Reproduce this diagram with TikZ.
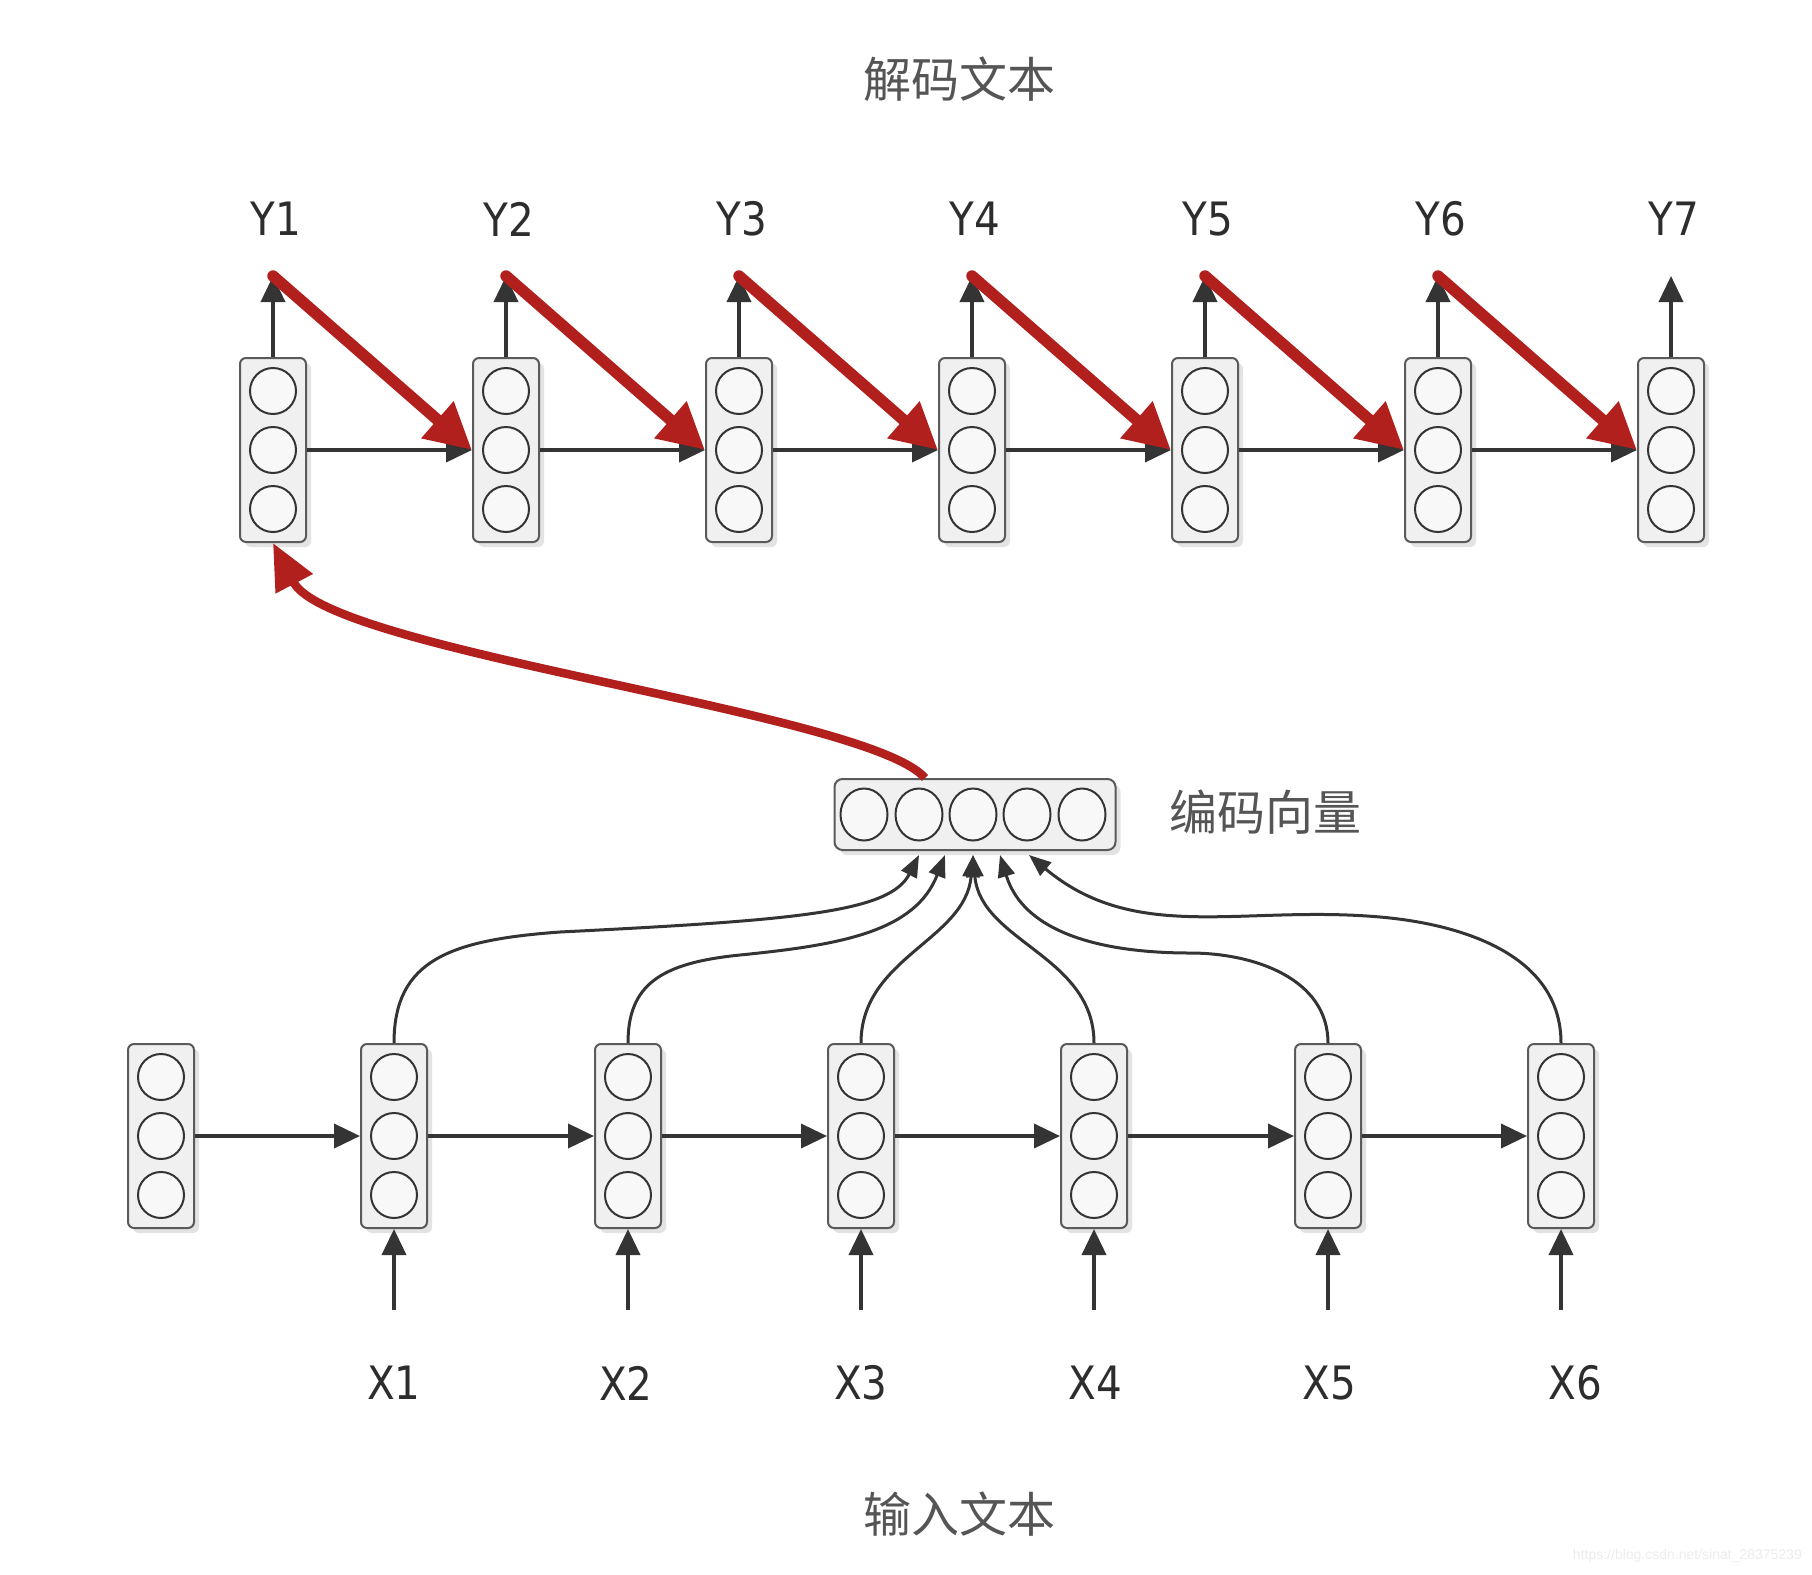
\documentclass[tikz,border=0pt]{standalone}
\usepackage{fontspec}
\usetikzlibrary{arrows.meta,shapes.geometric,shadows,calc}
\newfontfamily\cjk{Noto Sans CJK SC}
\newfontfamily\labfont[FakeStretch=0.88]{DejaVu Sans}
\newfontfamily\wmfont{Liberation Sans}
\definecolor{redarr}{RGB}{178,32,30}
\definecolor{darkln}{RGB}{52,52,52}
\definecolor{boxln}{RGB}{90,90,90}
\definecolor{boxfill}{RGB}{240,240,240}
\definecolor{cellfill}{RGB}{248,248,248}
\definecolor{txt}{RGB}{45,45,45}
\definecolor{cjktxt}{RGB}{85,85,85}
\begin{document}
\begin{tikzpicture}[x=1pt,y=1pt,
  cellbox/.style={draw=boxln, line width=2pt, fill=boxfill, rounded corners=6pt,
     minimum width=66pt, minimum height=184pt, inner sep=0pt,
     drop shadow={opacity=0.22, shadow xshift=5pt, shadow yshift=-5pt}},
  vecbox/.style={draw=boxln, line width=2pt, fill=boxfill, rounded corners=8pt,
     minimum width=281pt, minimum height=71pt, inner sep=0pt,
     drop shadow={opacity=0.22, shadow xshift=5pt, shadow yshift=-5pt}},
  cell/.style={circle, draw=darkln, line width=2pt, fill=cellfill,
     minimum size=46pt, inner sep=0pt},
  vcell/.style={ellipse, draw=darkln, line width=2pt, fill=cellfill,
     minimum width=47pt, minimum height=52pt, inner sep=0pt},
  blk/.style={draw=darkln, line width=3.8pt, -{Triangle[length=26pt,width=24pt]}},
  blkc/.style={draw=darkln, line width=3pt, -{Triangle[length=22pt,width=17pt]}},
  reda/.style={draw=redarr, line width=11.5pt, -{Triangle[length=46pt,width=46pt]}},
  redc/.style={draw=redarr, line width=8.5pt, -{Triangle[length=46pt,width=40pt]}},
  lab/.style={font=\labfont\fontsize{46}{50}\selectfont, text=txt, inner sep=0pt},
  cjklab/.style={font=\cjk\fontsize{48}{52}\selectfont, text=cjktxt, inner sep=0pt}
]
\fill[white] (0,0) rectangle (1812,-1574);
\useasboundingbox (0,0) rectangle (1812,-1574);

% titles
\node[cjklab] (tdec) at (959,-79) {解码文本};
\node[cjklab] (tenc) at (959,-1514) {输入文本};
\node[cjklab] (tvec) at (1265,-812) {编码向量};

% decoder cells
\foreach \i/\x in {1/273,2/506,3/739,4/972,5/1205,6/1438,7/1671}{
  \node[cellbox] (d\i) at (\x,-450) {};
  \node[cell] (d\i a) at (\x,-391) {};
  \node[cell] (d\i b) at (\x,-450) {};
  \node[cell] (d\i c) at (\x,-509) {};
  \coordinate (yt\i) at (\x,-276);
  \node[lab] (y\i) at (\x+3,-219) {Y\i};
}

% encoder cells
\foreach \i/\x in {0/161,1/394,2/628,3/861,4/1094,5/1328,6/1561}{
  \node[cellbox] (e\i) at (\x,-1136) {};
  \node[cell] (e\i a) at (\x,-1077) {};
  \node[cell] (e\i b) at (\x,-1136) {};
  \node[cell] (e\i c) at (\x,-1195) {};
  \coordinate (xb\i) at (\x,-1310);
}
\foreach \i/\x in {1/394,2/626,3/861,4/1095,5/1329,6/1575}{
  \node[lab] (x\i) at (\x,-1383) {X\i};
}

% encoded vector
\node[vecbox] (v) at (975,-814.5) {};
\foreach \k/\x in {1/864,2/919,3/973,4/1027,5/1082}{
  \node[vcell] (v\k) at (\x,-814.5) {};
}
\coordinate (t1) at (919,-855);
\coordinate (t2) at (945,-855);
\coordinate (t3) at (973,-855);
\coordinate (t4) at (1000,-855);
\coordinate (t5) at (1029,-855);

% encoder horizontal arrows
\foreach \i [evaluate=\i as \j using int(\i+1)] in {0,...,5}{
  \draw[blk] (e\i.east) -- (e\j.west);
}
% input arrows
\foreach \i in {1,...,6}{
  \draw[blk] (xb\i) -- (e\i.south);
}
% curves to the encoded vector
\draw[blkc] (e1.north) .. controls (394,-960) and (450,-940) .. (560,-932)
                       .. controls (800,-920) and (890,-912) .. (t1);
\draw[blkc] (e2.north) .. controls (628,-985) and (660,-963) .. (740,-955)
                       .. controls (840,-945) and (915,-932) .. (t2);
\draw[blkc] (e3.north) to[out=90,in=-95] (t3);
\draw[blkc] (e4.north) to[out=90,in=-85] (t3);
\draw[blkc] (e5.north) to[out=90,in=0] (1190,-953) to[out=180,in=-73] (t4);
\draw[blkc] (e6.north) to[out=90,in=-5] (1380,-917) to[out=175,in=-40] (t5);

% decoder output arrows and horizontal arrows
\foreach \i in {1,...,7}{
  \draw[blk] (d\i.north) -- (yt\i);
}
\foreach \i [evaluate=\i as \j using int(\i+1)] in {1,...,6}{
  \draw[blk] (d\i.east) -- (d\j.west);
}
% red feedback arrows
\foreach \i [evaluate=\i as \j using int(\i+1)] in {1,...,6}{
  \draw[reda, line cap=round] (yt\i) -- (d\j.west);
}
% red curve from the encoded vector to the decoder
\coordinate (vs) at ($(v.north)+(-50,0)$);
\draw[redc] (vs) .. controls (868,-712) and (330,-652) .. (d1.south);

% watermark
\node[font=\wmfont\fontsize{14}{16}\selectfont, text=black!7, anchor=east, inner sep=0pt] (wm) at (1802,-1556) {https://blog.csdn.net/sinat\_28375239};
\end{tikzpicture}
\end{document}
